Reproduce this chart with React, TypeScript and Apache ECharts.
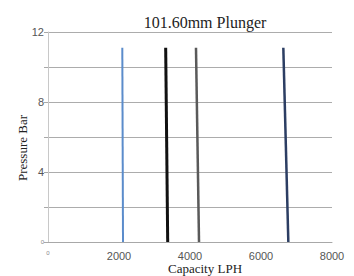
import React, { useEffect, useRef } from "react";
import * as echarts from "echarts";

const yTicks = [0, 4, 8, 12];
const seriesNames = ["A", "B", "C", "D"];
const seriesColors = ["#5b8ccb", "#111111", "#5a5a5a", "#2c3e63"];
const seriesWidths = [2, 3, 2.5, 2.5];
const topPressure = [11.1, 11.1, 11.1, 11.1];
const topCapacity = [2093, 3315, 4169, 6629];
const bottomCapacity = [2113, 3372, 4254, 6770];

export default function App() {
  const ref = useRef<HTMLDivElement>(null);
  useEffect(() => {
    const chart = echarts.init(ref.current!, null, { renderer: "svg" });
    const labelFmt = (v: number) => (v === 0 ? "{z|0}" : String(v));
    const rich = { z: { fontSize: 6, color: "#888" } };
    chart.setOption({
      animation: false,
      title: {
        text: "101.60mm Plunger",
        left: 200,
        top: 9,
        textAlign: "center",
        textStyle: { fontFamily: "Liberation Serif", fontSize: 16, fontWeight: "normal", color: "#222" },
      },
      grid: { left: 48, right: 22, top: 32, bottom: 34, containLabel: false, outerBoundsMode: "none" },
      xAxis: {
        type: "value",
        min: 0,
        max: 8000,
        interval: 2000,
        name: "Capacity LPH",
        nameLocation: "middle",
        nameGap: 20,
        nameMoveOverlap: false,
        nameTextStyle: { fontFamily: "Liberation Serif", fontSize: 13, color: "#222", padding: [0, 0, 0, 30] },
        axisLine: { show: true, lineStyle: { color: "#a8a8a8", width: 1 } },
        axisTick: { show: false },
        splitLine: { show: false },
        axisLabel: { fontFamily: "Liberation Sans", fontSize: 11, color: "#555", margin: 8, formatter: labelFmt, rich },
      },
      yAxis: {
        type: "value",
        min: 0,
        max: 12,
        interval: 2,
        name: "Pressure Bar",
        nameLocation: "middle",
        nameGap: 19,
        nameMoveOverlap: false,
        nameTextStyle: { fontFamily: "Liberation Serif", fontSize: 13, color: "#222", padding: [0, 22, 0, 0] },
        axisLine: { show: true, lineStyle: { color: "#c8c8c8" } },
        axisTick: { show: true, length: 4, lineStyle: { color: "#a8a8a8", width: 1 } },
        splitLine: { show: true, lineStyle: { color: "#acacac", width: 1, type: "solid" } },
        axisLabel: {
          fontFamily: "Liberation Sans",
          fontSize: 11,
          color: "#555",
          margin: 4,
          formatter: (v: number) => (yTicks.includes(v) ? labelFmt(v) : ""),
          rich,
        },
      },
      series: seriesNames.map((n, i) => ({
        name: n,
        type: "line",
        symbol: "none",
        data: [
          [topCapacity[i], topPressure[i]],
          [bottomCapacity[i], 0],
        ],
        lineStyle: { color: seriesColors[i], width: seriesWidths[i] },
      })),
    });
    return () => chart.dispose();
  }, []);
  return <div ref={ref} style={{ width: 354, height: 276, position: "absolute", left: 0, top: 0 }} />;
}
